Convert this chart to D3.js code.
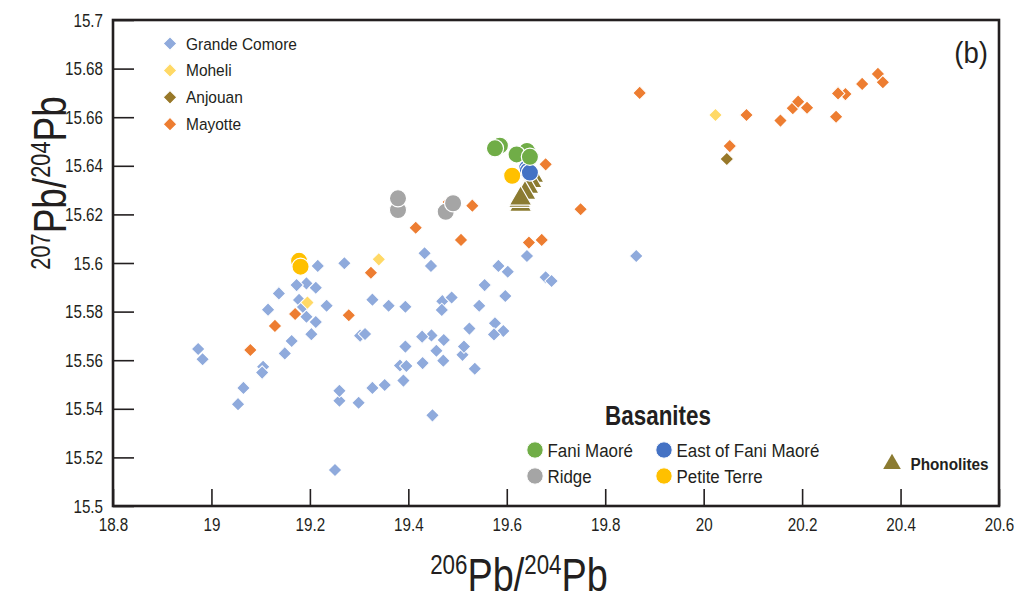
<!DOCTYPE html>
<html>
<head>
<meta charset="utf-8">
<script src="https://cdn.jsdelivr.net/npm/d3@7"></script>
<style>
  body { margin: 0; background: #fff; }
  text { font-family: "Liberation Sans", Arial, sans-serif; fill: #231f20; }
</style>
</head>
<body>
<svg id="chart" width="1021" height="602"></svg>
<script>
// Pb isotope data, 206Pb/204Pb (x) and 207Pb/204Pb (y)
const xTicks = [18.8, 19, 19.2, 19.4, 19.6, 19.8, 20, 20.2, 20.4, 20.6];
const yTicks = [15.5, 15.52, 15.54, 15.56, 15.58, 15.6, 15.62, 15.64, 15.66, 15.68, 15.7];

const grandeComoreX = [19.193, 19.216, 19.270, 19.433, 19.446, 19.173, 19.212, 19.137, 19.178, 19.186,
  19.115, 19.234, 19.193, 19.212, 19.203, 19.163, 19.149, 18.973, 18.982, 19.105, 19.103, 19.065,
  19.054, 19.327, 19.360, 19.394, 19.302, 19.312, 19.260, 19.260, 19.299, 19.327, 19.352, 19.390,
  19.394, 19.383, 19.396, 19.429, 19.447, 19.428, 19.457, 19.472, 19.471, 19.449, 19.251, 19.469,
  19.488, 19.468, 19.524, 19.510, 19.513, 19.535, 19.544, 19.555, 19.583, 19.602, 19.641, 19.597,
  19.679, 19.691, 19.576, 19.593, 19.574, 19.863];
const grandeComoreY = [15.5916, 15.5988, 15.5999, 15.6040, 15.5988, 15.5909, 15.5898, 15.5875, 15.5848, 15.5819,
  15.5808, 15.5824, 15.5779, 15.5757, 15.5707, 15.5679, 15.5628, 15.5646, 15.5604, 15.5573, 15.5549, 15.5486,
  15.5419, 15.5849, 15.5824, 15.5820, 15.5701, 15.5708, 15.5433, 15.5474, 15.5425, 15.5486, 15.5498, 15.5516,
  15.5656, 15.5578, 15.5576, 15.5588, 15.5702, 15.5697, 15.5639, 15.5683, 15.5598, 15.5373, 15.5148, 15.5843,
  15.5858, 15.5807, 15.5730, 15.5622, 15.5656, 15.5565, 15.5824, 15.5909, 15.5988, 15.5964, 15.6029, 15.5864,
  15.5941, 15.5926, 15.5752, 15.5720, 15.5706, 15.6029];

const moheliX = [19.340, 19.195, 20.024];
const moheliY = [15.6015, 15.5837, 15.6609];

const anjouanX = [20.047];
const anjouanY = [15.6428];

const mayotteX = [19.415, 19.507, 19.482, 19.530, 19.324, 19.170, 19.279, 19.129, 19.079, 19.679,
  19.750, 19.645, 19.671, 19.870, 20.053, 20.087, 20.156, 20.181, 20.192, 20.210, 20.269, 20.288,
  20.273, 20.322, 20.354, 20.364];
const mayotteY = [15.6145, 15.6095, 15.6251, 15.6236, 15.5960, 15.5790, 15.5785, 15.5741, 15.5642, 15.6406,
  15.6221, 15.6084, 15.6095, 15.6700, 15.6481, 15.6609, 15.6586, 15.6637, 15.6664, 15.6639, 15.6602, 15.6695,
  15.6698, 15.6737, 15.6778, 15.6744];

// Basanites
const faniMaoreX = [19.586, 19.576, 19.641, 19.620, 19.647];
const faniMaoreY = [15.6483, 15.6472, 15.6461, 15.6447, 15.6437];
const eastFaniX = [19.641, 19.643, 19.647];
const eastFaniY = [15.6390, 15.6380, 15.6372];
const ridgeX = [19.379, 19.476, 19.379, 19.491];
const ridgeY = [15.6218, 15.6211, 15.6266, 15.6246];
const petiteTerreX = [19.178, 19.181, 19.611];
const petiteTerreY = [15.6009, 15.5985, 15.6359];

// Phonolites
const phonoliteX = [19.653, 19.649, 19.643, 19.637, 19.628, 19.626, 19.628];
const phonoliteY = [15.6358, 15.6337, 15.6313, 15.6288, 15.6239, 15.6255, 15.6265];

const colors = {
  grande: "#8faadc", moheli: "#ffd966", anjouan: "#987829", mayotte: "#ed7d31",
  fani: "#70ad47", east: "#4472c4", ridge: "#a5a5a5", petite: "#ffc000", phono: "#8b7b31"
};

const svg = d3.select("#chart");
const plotLeft = 113, plotRight = 999, plotTop = 20, plotBottom = 506;

const x = d3.scaleLinear().domain([18.8, 20.6]).range([plotLeft, plotRight]);
const y = d3.scaleLinear().domain([15.5, 15.7]).range([plotBottom, plotTop]);

// Condensed lettering: narrow the glyphs horizontally around the anchor point
function squeeze(sel, sx) {
  sel.each(function () {
    const t = d3.select(this);
    const tx = +t.attr("x") || 0, ty = +t.attr("y") || 0;
    const prev = t.attr("transform") || "";
    t.attr("x", 0).attr("y", 0)
      .attr("transform", `${prev} translate(${tx},${ty}) scale(${sx},1)`);
  });
  return sel;
}

// Axes with inward ticks
const xAxis = d3.axisBottom(x).tickValues(xTicks).tickSize(-17).tickPadding(12)
  .tickFormat(d => d3.format("~g")(d));
const yAxis = d3.axisLeft(y).tickValues(yTicks).tickSize(-21).tickPadding(10)
  .tickFormat(d => d3.format("~g")(d));

const gx = svg.append("g").attr("transform", `translate(0,${plotBottom})`).call(xAxis);
const gy = svg.append("g").attr("transform", `translate(${plotLeft},0)`).call(yAxis);
[gx, gy].forEach(g => {
  g.select(".domain").remove();
  g.selectAll(".tick line").attr("stroke", "#231f20").attr("stroke-width", 1.6);
  const labels = g.selectAll(".tick text").attr("font-size", 19).attr("fill", "#231f20")
    .attr("font-family", null);
  squeeze(labels, 0.8);
});

// Plot frame
svg.append("rect").attr("x", plotLeft).attr("y", plotTop)
  .attr("width", plotRight - plotLeft).attr("height", plotBottom - plotTop)
  .attr("fill", "none").attr("stroke", "#231f20").attr("stroke-width", 2.6);

const plot = svg.append("g");

const diamond = d3.symbol().type(d3.symbolSquare).size(92)();
const circleR = 8.6;

function zipXY(xs, ys) { return xs.map((v, i) => [v, ys[i]]); }

function drawDiamonds(xs, ys, color) {
  plot.append("g").selectAll("path").data(zipXY(xs, ys)).join("path")
    .attr("d", diamond)
    .attr("transform", d => `translate(${x(d[0])},${y(d[1])}) rotate(45)`)
    .attr("fill", color).attr("stroke", "#fff").attr("stroke-width", 1);
}
function drawCircles(xs, ys, color) {
  plot.append("g").selectAll("circle").data(zipXY(xs, ys)).join("circle")
    .attr("cx", d => x(d[0])).attr("cy", d => y(d[1])).attr("r", circleR)
    .attr("fill", color).attr("stroke", "#fff").attr("stroke-width", 1.2);
}

drawDiamonds(grandeComoreX, grandeComoreY, colors.grande);
drawDiamonds(moheliX, moheliY, colors.moheli);
drawDiamonds(anjouanX, anjouanY, colors.anjouan);
drawDiamonds(mayotteX, mayotteY, colors.mayotte);

// Phonolite triangles
const tri = d3.symbol().type(d3.symbolTriangle).size(215)();
plot.append("g").selectAll("path").data(zipXY(phonoliteX, phonoliteY)).join("path")
  .attr("d", tri)
  .attr("transform", d => `translate(${x(d[0])},${y(d[1])})`)
  .attr("fill", colors.phono).attr("stroke", "#fff").attr("stroke-width", 1.2);

drawCircles(ridgeX, ridgeY, colors.ridge);
drawCircles(eastFaniX, eastFaniY, colors.east);
drawCircles(faniMaoreX, faniMaoreY, colors.fani);
drawCircles(petiteTerreX, petiteTerreY, colors.petite);

// Island legend (top left)
const islandLegend = [
  ["Grande Comore", colors.grande], ["Moheli", colors.moheli],
  ["Anjouan", colors.anjouan], ["Mayotte", colors.mayotte]
];
const lg = svg.append("g");
islandLegend.forEach((item, i) => {
  const cy = 43.5 + i * 26.9;
  lg.append("path").attr("d", diamond)
    .attr("transform", `translate(170,${cy}) rotate(45)`)
    .attr("fill", item[1]).attr("stroke", "#fff").attr("stroke-width", 1);
  squeeze(lg.append("text").attr("x", 186).attr("y", cy + 6)
    .attr("font-size", 17.2).text(item[0]), 0.9);
});

// Panel label
squeeze(svg.append("text").attr("x", 988).attr("y", 63).attr("text-anchor", "end")
  .attr("font-size", 30).text("(b)"), 0.92);

// Basanite legend
squeeze(svg.append("text").attr("x", 658).attr("y", 425)
  .attr("text-anchor", "middle").attr("font-size", 28).attr("font-weight", "bold")
  .text("Basanites"), 0.8);
const basLegend = [
  ["Fani Maoré", colors.fani, 535, 450], ["East of Fani Maoré", colors.east, 664, 450],
  ["Ridge", colors.ridge, 535, 476], ["Petite Terre", colors.petite, 664, 476]
];
basLegend.forEach(b => {
  svg.append("circle").attr("cx", b[2]).attr("cy", b[3]).attr("r", 8.2)
    .attr("fill", b[1]).attr("stroke", "#fff").attr("stroke-width", 1);
  squeeze(svg.append("text").attr("x", b[2] + 12.5).attr("y", b[3] + 6.5)
    .attr("font-size", 18.8).text(b[0]), 0.9);
});

// Phonolite legend
svg.append("path").attr("d", d3.symbol().type(d3.symbolTriangle).size(135)())
  .attr("transform", "translate(892,464)").attr("fill", colors.phono);
squeeze(svg.append("text").attr("x", 910.5).attr("y", 470).attr("font-size", 17)
  .attr("font-weight", "bold").text("Phonolites"), 0.9);

// Axis titles
function isotopeTitle(sel, upper, lower) {
  sel.attr("text-anchor", "middle").attr("font-size", 44);
  sel.append("tspan").attr("font-size", 26).attr("dy", -16).text(upper);
  sel.append("tspan").attr("dy", 16).text("Pb/");
  sel.append("tspan").attr("font-size", 26).attr("dy", -16).text(lower);
  sel.append("tspan").attr("dy", 16).text("Pb");
}
const xt = svg.append("text").attr("transform", "translate(519,591) scale(0.86,1.05)");
isotopeTitle(xt, "206", "204");

const yt = svg.append("text").attr("transform", "translate(66,183) rotate(-90) scale(0.84,1.03)");
isotopeTitle(yt, "207", "204");
</script>
</body>
</html>
